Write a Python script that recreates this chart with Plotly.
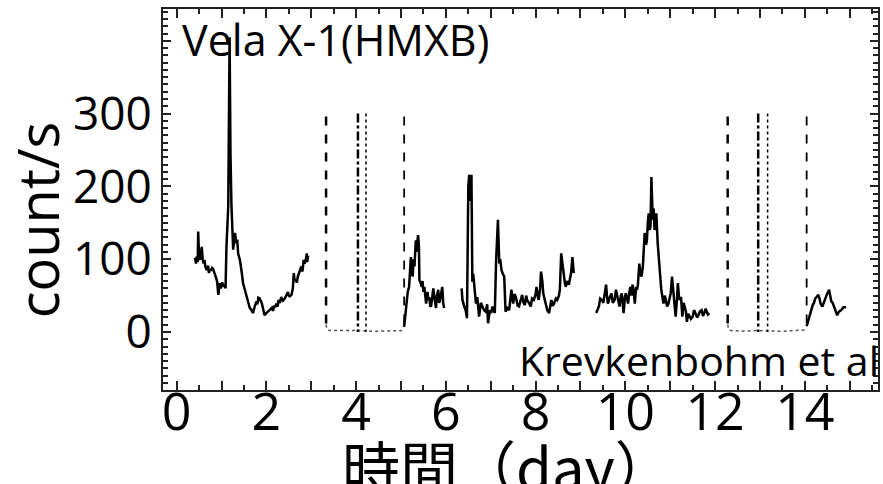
import plotly.graph_objects as go

# ---------------- data ----------------
seg1_t = [0.41, 0.43, 0.45, 0.47, 0.48, 0.50, 0.52, 0.54, 0.56, 0.58, 0.60, 0.62, 0.64, 0.67, 0.70, 0.72,
          0.74, 0.76, 0.79, 0.81, 0.84, 0.87, 0.90, 0.93, 0.96, 0.98, 1.00, 1.02, 1.04, 1.06, 1.09, 1.11,
          1.15, 1.17, 1.18, 1.20, 1.22, 1.26, 1.28, 1.30, 1.33, 1.35, 1.37, 1.41, 1.45, 1.48, 1.52, 1.56,
          1.60, 1.63, 1.67, 1.70, 1.74, 1.78, 1.80, 1.82, 1.85, 1.88, 1.90, 1.93, 1.96, 2.00, 2.04, 2.08,
          2.12, 2.15, 2.17, 2.20, 2.22, 2.25, 2.27, 2.30, 2.33, 2.35, 2.37, 2.41, 2.45, 2.48, 2.50, 2.52,
          2.56, 2.59, 2.61, 2.63, 2.65, 2.68, 2.70, 2.72, 2.74, 2.78, 2.80, 2.81, 2.83, 2.85, 2.88, 2.90,
          2.91, 2.93]
seg1_r = [102, 94, 104, 96, 138, 104, 99, 110, 117, 100, 94, 99, 90, 85, 91, 81,
          86, 84, 88, 87, 80, 76, 70, 51, 67, 60, 64, 68, 62, 65, 60, 117,
          172, 291, 405, 245, 177, 113, 128, 136, 122, 127, 108, 99,
          82, 67, 58, 48, 40, 33, 30, 26, 35, 42, 38, 47, 46, 42, 39, 31, 23, 26,
          28, 31, 33, 29, 36, 34, 39, 35, 44, 40, 48, 45, 43, 46, 52, 55, 50, 49,
          51, 60, 81, 70, 72, 68, 76, 80, 84, 90, 83, 86, 99, 94, 100, 108,
          96, 105]

seg2_t = [5.07, 5.09, 5.11, 5.13, 5.15, 5.18, 5.20, 5.22, 5.24, 5.26, 5.28, 5.30, 5.33, 5.35, 5.36,
          5.38, 5.40, 5.41, 5.44, 5.46, 5.48, 5.50, 5.52, 5.54, 5.56, 5.59, 5.61, 5.63, 5.65, 5.67,
          5.70, 5.72, 5.75, 5.78, 5.80, 5.83, 5.85, 5.87, 5.90, 5.92, 5.94, 5.96]
seg2_r = [7, 20, 35, 48, 55, 62, 95, 103, 85, 76, 100, 90, 126, 110, 120,
          133, 118, 71, 67, 62, 70, 55, 62, 46, 39, 55, 44, 48, 36, 35,
          52, 60, 45, 33, 50, 58, 40, 44, 55, 62, 40, 33]

seg3_t = [6.35, 6.37, 6.41, 6.44, 6.47, 6.48, 6.50, 6.52, 6.55, 6.57, 6.59, 6.61, 6.63, 6.65, 6.67,
          6.70, 6.72, 6.74, 6.78, 6.81, 6.85, 6.89, 6.92, 6.94, 6.98, 7.01, 7.04, 7.09, 7.12, 7.16,
          7.19, 7.21, 7.24, 7.27, 7.30, 7.33, 7.37, 7.41, 7.44, 7.46, 7.50, 7.53, 7.56, 7.60, 7.63,
          7.67, 7.70, 7.73, 7.76, 7.79, 7.81, 7.85, 7.89, 7.92, 7.96, 8.00, 8.02, 8.05, 8.07, 8.10,
          8.12, 8.15, 8.17, 8.20, 8.22, 8.26, 8.30, 8.35, 8.38, 8.41, 8.45, 8.48, 8.52, 8.54, 8.57,
          8.60, 8.62, 8.65, 8.67, 8.70, 8.74, 8.77, 8.79, 8.82, 8.84, 8.85]
seg3_r = [60, 44, 35, 30, 19, 140, 200, 216, 180, 216, 69, 80, 62, 55, 39,
          48, 30, 21, 40, 35, 30, 28, 38, 12, 30, 26, 35, 26, 99, 154,
          94, 100, 85, 80, 76, 28, 33, 30, 45, 58, 39, 52, 48, 36, 35,
          45, 51, 40, 37, 50, 44, 40, 35, 46, 44, 52, 62, 48, 44, 60,
          83, 70, 53, 45, 39, 30, 26, 44, 36, 39, 46, 44, 50, 58, 108,
          90, 76, 68, 62, 70, 65, 75, 81, 103, 90, 81]

seg4_t = [9.35, 9.38, 9.41, 9.44, 9.48, 9.51, 9.54, 9.57, 9.59, 9.61, 9.65, 9.69, 9.72, 9.76, 9.79,
          9.81, 9.84, 9.87, 9.90, 9.92, 9.94, 9.96, 9.99, 10.01, 10.04, 10.06, 10.09, 10.11, 10.14,
          10.16, 10.19, 10.21, 10.24, 10.26, 10.28, 10.31, 10.34, 10.36, 10.39, 10.41, 10.43, 10.46,
          10.48, 10.50, 10.52, 10.54, 10.56, 10.58, 10.61, 10.63, 10.65, 10.67, 10.69, 10.72, 10.76,
          10.80, 10.85, 10.88, 10.90, 10.93, 10.96, 10.99, 11.01, 11.04, 11.06, 11.08, 11.12, 11.15,
          11.17, 11.20, 11.24, 11.27, 11.30, 11.32, 11.35, 11.37, 11.40, 11.42, 11.46, 11.50, 11.53,
          11.56, 11.60, 11.63, 11.66, 11.70, 11.73, 11.76, 11.79, 11.81, 11.84, 11.87]
seg4_r = [26, 32, 35, 46, 44, 40, 51, 65, 50, 39, 47, 53, 40, 44, 58,
          53, 42, 35, 50, 53, 40, 26, 48, 53, 45, 39, 55, 62, 50,
          65, 55, 39, 62, 58, 65, 94, 80, 76, 90, 110, 136, 120,
          126, 150, 163, 140, 145, 213, 154, 170, 140, 155, 163, 122, 85,
          58, 39, 50, 44, 35, 39, 48, 53, 76, 60, 53, 21, 45,
          67, 44, 48, 21, 40, 35, 28, 14, 25, 23, 18, 21, 30,
          26, 20, 23, 28, 30, 22, 26, 32, 28, 24, 26]

seg5_t = [14.04, 14.07, 14.10, 14.13, 14.15, 14.18, 14.20, 14.23, 14.26, 14.30, 14.33, 14.35, 14.39,
          14.42, 14.44, 14.47, 14.50, 14.54, 14.57, 14.59, 14.62, 14.64, 14.69, 14.72, 14.76, 14.81,
          14.86, 14.92]
seg5_r = [8, 14, 21, 28, 33, 38, 39, 46, 48, 51, 45, 39, 35, 40, 44, 50, 53, 58, 50, 42,
          40, 37, 30, 23, 28, 30, 34, 34]

# rate during the two eclipses
ecl1_t = [3.33, 3.35, 3.40, 3.60, 3.80, 3.95, 4.00, 4.05, 4.40, 4.80, 5.07]
ecl1_r = [10, 4, 2, 2, 1, 2, 4, 2, 1, 1, 2]
ecl2_t = [12.28, 12.30, 12.35, 12.60, 12.90, 13.20, 13.50, 13.80, 14.04]
ecl2_r = [10, 4, 2, 1, 2, 1, 1, 2, 3]

# eclipse marker lines (x positions) and their heights
ingress_x = [3.33, 12.28]
mid1_x = [4.04, 12.96]
mid2_x = [4.22, 13.17]
egress_x = [5.07, 14.04]
ingress_top = 296
mid_top = 300
egress_top = 296

x_tick_vals = list(range(0, 16))
x_tick_text = [str(v) if v % 2 == 0 else "" for v in x_tick_vals]
y_tick_vals = [0, 100, 200, 300, 400]
y_tick_text = ["0", "100", "200", "300", ""]

# ---------------- build ----------------
def joined(ts, rs):
    xs, ys = [], []
    for t, r in zip(ts, rs):
        if xs:
            xs.append(None)
            ys.append(None)
        xs += t
        ys += r
    return xs, ys

def vlines(xs, top):
    X, Y = [], []
    for x in xs:
        X += [x, x, None]
        Y += [top, 0, None]
    return X, Y

lc_x, lc_y = joined([seg1_t, seg2_t, seg3_t, seg4_t, seg5_t], [seg1_r, seg2_r, seg3_r, seg4_r, seg5_r])
ec_x, ec_y = joined([ecl1_t, ecl2_t], [ecl1_r, ecl2_r])

fig = go.Figure()
fig.add_trace(go.Scatter(x=lc_x, y=lc_y, mode="lines", line=dict(color="black", width=2.5),
                         connectgaps=False, hoverinfo="skip"))
fig.add_trace(go.Scatter(x=ec_x, y=ec_y, mode="lines", line=dict(color="#555555", width=1.5, dash="dot"),
                         connectgaps=False, hoverinfo="skip"))
for xs, top, dash, w in [(ingress_x, ingress_top, "dash", 2.5),
                         (mid1_x, mid_top, "dashdot", 2.5),
                         (mid2_x, mid_top, "dot", 1.5),
                         (egress_x, egress_top, "dash", 1.8)]:
    vx, vy = vlines(xs, top)
    fig.add_trace(go.Scatter(x=vx, y=vy, mode="lines", line=dict(color="black", width=w, dash=dash),
                             connectgaps=False, hoverinfo="skip"))

latin = "Open Sans, Liberation Sans, sans-serif"
axis_common = dict(showline=True, linecolor="#222222", linewidth=2, mirror="ticks",
                   ticks="inside", tickcolor="#222222", tickwidth=1.5, showgrid=False, zeroline=False)

fig.update_xaxes(range=[-0.304, 15.63], tickmode="array", tickvals=x_tick_vals, ticktext=x_tick_text,
                 ticklen=9, tickfont=dict(family=latin, size=52, color="black"),
                 minor=dict(tickmode="linear", tick0=0, dtick=0.5, ticklen=5, ticks="inside",
                            tickcolor="#222222", tickwidth=1.5),
                 **axis_common)
try:
    fig.update_xaxes(ticklabelstandoff=-24)
except Exception:
    pass
fig.update_yaxes(range=[-79.7, 443.7], tickmode="array", tickvals=y_tick_vals, ticktext=y_tick_text,
                 ticklen=8, tickfont=dict(family=latin, size=46, color="black"),
                 minor=dict(tickmode="linear", tick0=0, dtick=10, ticklen=5, ticks="inside",
                            tickcolor="#222222", tickwidth=1.5),
                 **axis_common)

fig.update_layout(
    width=883, height=484,
    margin=dict(l=163, r=3, t=9, b=94),
    paper_bgcolor="white", plot_bgcolor="white",
    showlegend=False,
    annotations=[
        dict(text="count/s", textangle=-90, x=-0.176, y=0.446, xref="paper", yref="paper",
             showarrow=False, font=dict(family=latin, size=56, color="black"),
             xanchor="center", yanchor="middle"),
        dict(text="時間（day）", x=0.482, y=-0.198, xref="paper", yref="paper",
             showarrow=False, font=dict(family="Noto Sans CJK JP", size=58, color="black"),
             xanchor="center", yanchor="middle"),
        dict(text="Vela X-1(HMXB)", x=0.0237, y=0.92, xref="paper", yref="paper",
             showarrow=False, font=dict(family=latin, size=43, color="black"),
             xanchor="left", yanchor="middle"),
        dict(text="Krevkenbohm et al", x=0.495, y=0.079, xref="paper", yref="paper",
             showarrow=False, font=dict(family=latin, size=41, color="black"),
             xanchor="left", yanchor="middle"),
    ],
)

fig.write_html("out.html")
